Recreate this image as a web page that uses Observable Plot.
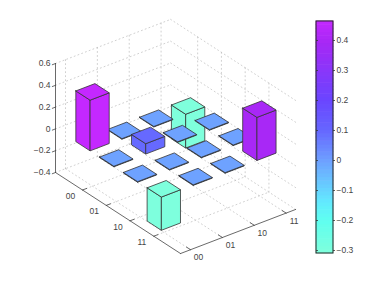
<!DOCTYPE html>
<html>
<head>
<meta charset="utf-8">
<script src="https://cdn.jsdelivr.net/npm/d3@7"></script>
<script src="https://cdn.jsdelivr.net/npm/@observablehq/plot@0.6"></script>
<style>html,body{margin:0;padding:0;background:#fff}svg{display:block}</style>
</head>
<body>
<script>
const labels = ["00", "01", "10", "11"];
const row1 = [0.465, -0.005, -0.005, -0.31];
const row2 = [-0.005, 0.095, -0.005, -0.005];
const row3 = [-0.005, -0.005, -0.005, -0.005];
const row4 = [-0.305, -0.005, -0.005, 0.395];
const zTicks = [0.6, 0.4, 0.2, 0, -0.2, -0.4];
const cbTicks = [0.4, 0.3, 0.2, 0.1, 0, -0.1, -0.2, -0.3];
const colorStops = [-0.31, -0.2, -0.14, -0.005, 0.1, 0.2, 0.39, 0.465];
const colorValues = ["#7fffdc", "#5ffff0", "#62eaff", "#6ea2ff", "#6666ff", "#6a45ff", "#a628f5", "#c428ff"];
const matrix = [row1, row2, row3, row4];

// Oblique 3-D projection of the chart's axes box
const uMin = -0.137, uMax = 5.125, vMin = 0.686, vMax = 4.3, zMin = -0.4, zMax = 0.6;
const proj = (u, v, z) => ({
  x: 55 + (u - uMin) * 23.76 + (v - vMin) * 31.86,
  y: 172 + (u - uMin) * 15.4 - (v - vMin) * 12.2 - (z - zMin) * 109
});

// Grid on floor and two walls
const grid = [];
const seg = (id, a, b) => { grid.push({id, ...a}, {id, ...b}); };
const ticks = [1, 2, 3, 4];
ticks.forEach(t => {
  seg("fu" + t, proj(t, vMin, zMin), proj(t, vMax, zMin));
  seg("fv" + t, proj(uMin, t, zMin), proj(uMax, t, zMin));
  seg("wu" + t, proj(t, vMax, zMin), proj(t, vMax, zMax));
  seg("wv" + t, proj(uMin, t, zMin), proj(uMin, t, zMax));
});
zTicks.forEach(z => {
  seg("zl" + z, proj(uMin, vMin, z), proj(uMin, vMax, z));
  seg("zr" + z, proj(uMin, vMax, z), proj(uMax, vMax, z));
});

// Solid axes with ticks
const axes = [];
const aseg = (id, a, b) => { axes.push({id, ...a}, {id, ...b}); };
aseg("z", proj(uMin, vMin, zMin), proj(uMin, vMin, zMax));
aseg("u", proj(uMin, vMin, zMin), proj(uMax, vMin, zMin));
aseg("v", proj(uMax, vMin, zMin), proj(uMax, vMax, zMin));
ticks.forEach(t => {
  aseg("tu" + t, proj(t, vMin, zMin), proj(t, vMin + 0.13, zMin));
  aseg("tv" + t, proj(uMax, t, zMin), proj(uMax - 0.17, t, zMin));
});
zTicks.forEach(z => aseg("tz" + z, proj(uMin, vMin, z), proj(uMin, vMin - 0.1, z)));

const minus = s => s.replace("-", "\u2212");
const zText = zTicks.map(z => ({...proj(uMin, vMin, z), text: z === 0 ? "0" : minus(d3.format(".1f")(z))}));
const uText = labels.map((s, i) => ({...proj(i + 1, vMin, zMin), text: s}));
const vText = labels.map((s, i) => ({...proj(uMax, i + 1, zMin), text: s}));

// Bars, back to front, three visible faces each
const half = 0.3;
const cells = [];
matrix.forEach((r, i) => r.forEach((val, j) => cells.push({u: i + 1, v: j + 1, val})));
cells.sort((a, b) => (a.u - a.v) - (b.u - b.v));
const faces = [];
cells.forEach(({u, v, val}) => {
  const t = Math.max(0, val), b = Math.min(0, val);
  const add = (name, pts) => pts.forEach(p => faces.push({id: `${u}-${v}-${name}`, val, ...proj(...p)}));
  const u0 = u - half, u1 = u + half, v0 = v - half, v1 = v + half;
  add("left", [[u0, v0, t], [u1, v0, t], [u1, v0, b], [u0, v0, b], [u0, v0, t]]);
  add("right", [[u1, v0, t], [u1, v1, t], [u1, v1, b], [u1, v0, b], [u1, v0, t]]);
  add("top", [[u0, v0, t], [u0, v1, t], [u1, v1, t], [u1, v0, t], [u0, v0, t]]);
});

// Colour bar
const cbMax = 0.4635, cbMin = -0.31, cbLevels = 64;
const cbY = val => 250 - (val + 0.3) * 300;
const cbX0 = 316, cbX1 = 333;
const cbStep = (cbMax - cbMin) / cbLevels;
const cbCells = d3.range(cbLevels).map(i => {
  const lo = cbMin + i * cbStep;
  return {y1: cbY(lo), y2: cbY(lo + cbStep), val: lo + cbStep / 2};
});
const cbTickData = cbTicks.map(val => ({val, y: cbY(val), text: val === 0 ? "0" : minus(d3.format(".1f")(val))}));

const chart = Plot.plot({
  width: 382, height: 287,
  marginTop: 0, marginRight: 0, marginBottom: 0, marginLeft: 0,
  x: {domain: [0, 382], range: [0, 382], axis: null},
  y: {domain: [0, 287], range: [0, 287], axis: null},
  color: {type: "linear", domain: colorStops, range: colorValues, interpolate: "rgb", clamp: true},
  style: {fontFamily: "'Liberation Sans', Arial, sans-serif", background: "#fff"},
  marks: [
    Plot.line(grid, {x: "x", y: "y", z: "id", stroke: "#bbb", strokeWidth: 0.7, strokeDasharray: "1,3"}),
    Plot.line(axes, {x: "x", y: "y", z: "id", stroke: "#444", strokeWidth: 0.8}),
    Plot.text(zText, {x: "x", y: "y", text: "text", dx: -5, textAnchor: "end", fontSize: 8.5, fill: "#444"}),
    Plot.text(uText, {x: "x", y: "y", text: "text", dx: -12, dy: 6, fontSize: 8.5, fill: "#444"}),
    Plot.text(vText, {x: "x", y: "y", text: "text", dx: 8, dy: 8, fontSize: 8.5, fill: "#444"}),
    Plot.line(faces, {x: "x", y: "y", z: "id", fill: "val", stroke: "#333", strokeWidth: 0.8, strokeLinejoin: "round"}),
    Plot.rect(cbCells, {x1: cbX0, x2: cbX1, y1: "y1", y2: "y2", fill: "val", inset: -0.3}),
    Plot.rect([{y1: cbY(cbMin), y2: cbY(cbMax)}], {x1: cbX0, x2: cbX1, y1: "y1", y2: "y2", fill: "none", stroke: "#222", strokeWidth: 1}),
    Plot.ruleY(cbTickData, {y: "y", x1: cbX0, x2: cbX0 + 2, stroke: "#333", strokeWidth: 0.8}),
    Plot.ruleY(cbTickData, {y: "y", x1: cbX1, x2: cbX1 + 2, stroke: "#333", strokeWidth: 0.8}),
    Plot.text(cbTickData, {x: cbX1 + 3, y: "y", text: "text", textAnchor: "start", fontSize: 8.5, fill: "#444"})
  ]
});
document.body.appendChild(chart);
</script>
</body>
</html>
